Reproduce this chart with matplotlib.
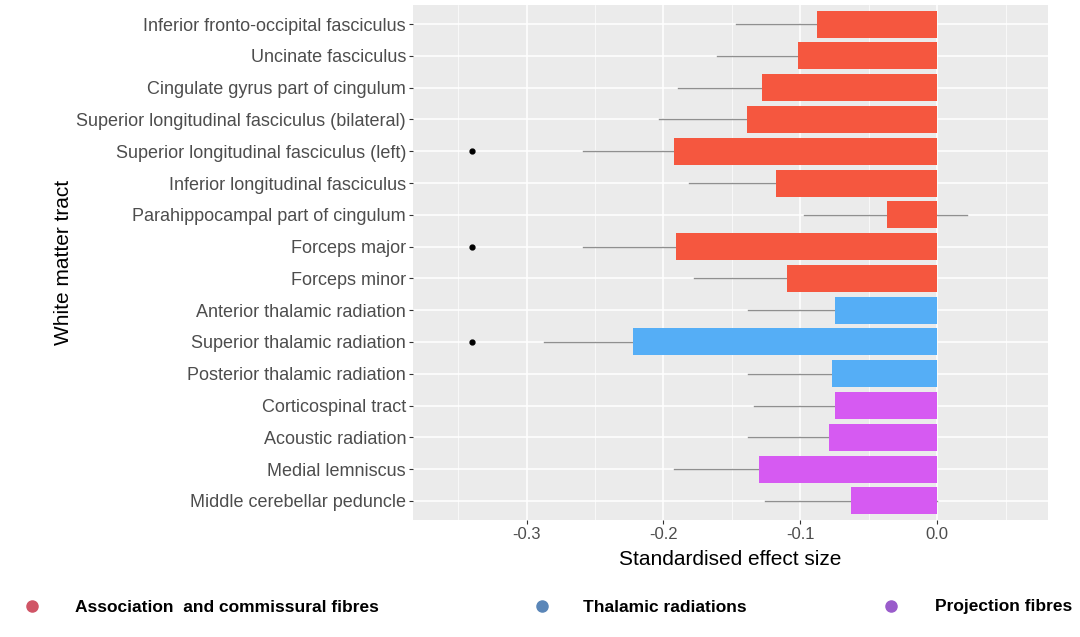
import matplotlib
matplotlib.use("Agg")
import matplotlib.pyplot as plt
import numpy as np

tracts = [
    "Inferior fronto-occipital fasciculus",
    "Uncinate fasciculus",
    "Cingulate gyrus part of cingulum",
    "Superior longitudinal fasciculus (bilateral)",
    "Superior longitudinal fasciculus (left)",
    "Inferior longitudinal fasciculus",
    "Parahippocampal part of cingulum",
    "Forceps major",
    "Forceps minor",
    "Anterior thalamic radiation",
    "Superior thalamic radiation",
    "Posterior thalamic radiation",
    "Corticospinal tract",
    "Acoustic radiation",
    "Medial lemniscus",
    "Middle cerebellar peduncle",
]
effect = [-0.088, -0.102, -0.128, -0.139, -0.192, -0.118, -0.037, -0.191,
          -0.110, -0.075, -0.222, -0.077, -0.075, -0.079, -0.130, -0.063]
ci_low = [-0.147, -0.161, -0.189, -0.203, -0.259, -0.181, -0.097, -0.259,
          -0.178, -0.138, -0.287, -0.138, -0.134, -0.138, -0.192, -0.126]
ci_high = [-0.029, -0.043, -0.067, -0.075, -0.125, -0.055, 0.022, -0.123,
           -0.042, -0.012, -0.157, -0.016, -0.016, -0.020, -0.068, 0.000]
group = ["assoc"] * 9 + ["thal"] * 3 + ["proj"] * 4
significant = [False, False, False, False, True, False, False, True,
               False, False, True, False, False, False, False, False]
star_x = -0.34

group_names = {"assoc": "Association  and commissural fibres",
               "thal": "Thalamic radiations",
               "proj": "Projection fibres"}
bar_colors = {"assoc": "#F5573F", "thal": "#55AEF6", "proj": "#D65AF2"}
legend_colors = {"assoc": "#D05566", "thal": "#5A86B8", "proj": "#9A5CCB"}

FONT = "Liberation Sans"

fig = plt.figure(figsize=(10.8, 6.37), dpi=100)
ax = fig.add_axes([413 / 1080, 1 - 520 / 637, (1048 - 413) / 1080, (520 - 5) / 637])
ax.set_facecolor("#EBEBEB")

y = np.arange(len(tracts))
# error bars (behind bars)
for i in range(len(tracts)):
    ax.plot([ci_low[i], ci_high[i]], [y[i], y[i]], color="#8F8F8F", lw=1.0, zorder=2)
ax.barh(y, effect, height=0.85, color=[bar_colors[g] for g in group], zorder=3)
for i, s in enumerate(significant):
    if s:
        ax.plot(star_x, y[i], marker="o", color="black", ms=3.5, zorder=4)

ax.set_xlim(-0.383, 0.081)
ax.set_ylim(len(tracts) - 0.4, -0.6)
major = [-0.3, -0.2, -0.1, 0.0]
minor = [-0.35, -0.25, -0.15, -0.05, 0.05]
ax.set_xticks(major)
ax.set_xticklabels(["-0.3", "-0.2", "-0.1", "0.0"])
ax.set_xticks(minor, minor=True)
ax.set_yticks(y)
ax.set_yticklabels(tracts)
ax.grid(True, which="major", color="white", lw=1.1, zorder=0)
ax.grid(True, which="minor", axis="x", color="white", lw=0.5, zorder=0)
ax.set_axisbelow(True)
for sp in ax.spines.values():
    sp.set_visible(False)
ax.tick_params(axis="both", which="major", length=3, color="#333333",
               labelcolor="#4D4D4D", pad=2)
ax.tick_params(axis="y", labelsize=13)
ax.tick_params(axis="x", labelsize=12)
ax.tick_params(axis="both", which="minor", length=0)
for lbl in ax.get_yticklabels() + ax.get_xticklabels():
    lbl.set_family(FONT)
ax.set_xlabel("Standardised effect size", fontsize=15, family=FONT,
              color="black", labelpad=6)
ax.set_ylabel("White matter tract", fontsize=15, family=FONT, color="black")
ax.yaxis.set_label_coords(-0.535, 0.5)

# legend
leg_x = {"assoc": (32, 75), "thal": (542, 583), "proj": (891, 935)}
for g in ["assoc", "thal", "proj"]:
    mx, tx = leg_x[g]
    fig.add_artist(plt.Line2D([mx / 1080], [1 - 606 / 637], marker="o", ms=8,
                              color=legend_colors[g], lw=0, transform=fig.transFigure))
    fig.text(tx / 1080, 1 - 607 / 637, group_names[g], fontsize=12.5, fontweight="bold",
             family=FONT, va="center", ha="left")

fig.savefig("out.png", dpi=100, facecolor="white")
